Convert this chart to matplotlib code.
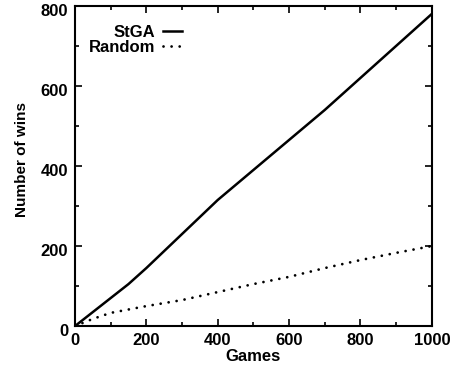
import matplotlib
matplotlib.use('Agg')
from matplotlib import pyplot as plt
from matplotlib import transforms
from matplotlib.ticker import MultipleLocator

# wins over games
games_stga = [0, 50, 100, 150, 200, 300, 400, 500, 600, 700, 800, 900, 1000]
wins_stga = [0, 35, 70, 105, 145, 230, 315, 390, 465, 540, 620, 700, 780]

games_random = [0, 50, 100, 200, 300, 400, 500, 600, 700, 800, 900, 1000]
wins_random = [0, 18, 33, 50, 65, 85, 105, 123, 145, 165, 183, 200]

plt.rcParams['font.family'] = ['Liberation Sans', 'DejaVu Sans']
plt.rcParams['font.weight'] = 'bold'

fig = plt.figure(figsize=(4.57, 3.66), dpi=100)
ax = fig.add_axes([0.164, 0.109, 0.781, 0.875])

ax.plot(games_stga, wins_stga, color='black', lw=1.8, label='StGA')
ax.plot(games_random, wins_random, color='black', lw=2.0,
        linestyle=(0, (0.01, 2.9)), dash_capstyle='round', label='Random')

ax.set_xlim(0, 1000)
ax.set_ylim(0, 800)
ax.xaxis.set_major_locator(MultipleLocator(200))
ax.xaxis.set_minor_locator(MultipleLocator(100))
ax.yaxis.set_major_locator(MultipleLocator(200))
ax.yaxis.set_minor_locator(MultipleLocator(100))
ax.tick_params(which='both', direction='in', top=True, right=True,
               labelsize=12, width=1.2)
ax.tick_params(which='major', length=5)
ax.tick_params(which='minor', length=3)
ax.tick_params(axis='x', pad=5)
ax.tick_params(axis='y', pad=5)
# y labels sit a little below their ticks in the original
offset = transforms.ScaledTranslation(0, -0.04, fig.dpi_scale_trans)
for lbl in ax.yaxis.get_majorticklabels():
    lbl.set_transform(lbl.get_transform() + offset)
for sp in ax.spines.values():
    sp.set_linewidth(1.5)

ax.set_xlabel('Games', fontsize=12, fontweight='bold', labelpad=1)
ax.set_ylabel('Number of wins', fontsize=11, fontweight='bold')
ax.yaxis.set_label_coords(-0.13, 0.52)

ax.legend(loc='upper left', bbox_to_anchor=(0.02, 0.96), frameon=False,
          markerfirst=False, fontsize=12, handlelength=1.1,
          handletextpad=0.5, labelspacing=0.0, borderaxespad=0.0)

fig.savefig('out.png', dpi=100)
